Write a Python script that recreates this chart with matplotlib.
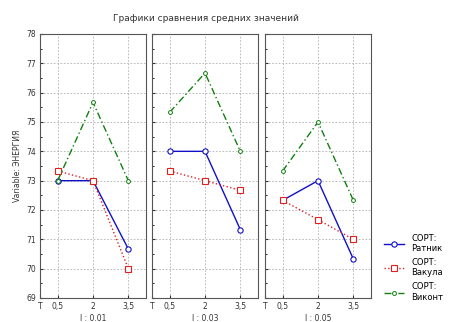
import matplotlib.pyplot as plt

x_labels = ['0,5', '2', '3,5']
panel_titles = ['l : 0.01', 'l : 0.03', 'l : 0.05']
ratnik = [[73, 73, 70.67], [74, 74, 71.33], [72.33, 73, 70.33]]
vakula = [[73.33, 73, 70], [73.33, 73, 72.67], [72.33, 71.67, 71]]
vikont = [[73, 75.67, 73], [75.33, 76.67, 74], [73.33, 75, 72.33]]

plt.rcParams['font.family'] = ['DejaVu Sans']
plt.rcParams['font.size'] = 5.5

fig = plt.figure(figsize=(4.52, 3.22), dpi=100)
lefts = [40, 152, 265]
pos = [1, 2, 3]
for i in range(3):
    ax = fig.add_axes([lefts[i] / 452, 24 / 322, 106 / 452, 264 / 322])
    ax.plot(pos, ratnik[i], color='#1010c8', lw=1, marker='o', ms=3.8,
            mfc='white', mew=0.8, label='СОРТ:\nРатник')
    ax.plot(pos, vakula[i], color='#e02020', lw=1, ls=':', marker='s', ms=3.8,
            mfc='white', mew=0.8, label='СОРТ:\nВакула')
    ax.plot(pos, vikont[i], color='#108010', lw=1, ls=(0, (5, 2, 1, 2)), marker='o',
            ms=2.8, mfc='white', mew=0.7, label='СОРТ:\nВиконт')
    ax.set_xlim(0.5, 3.5)
    ax.set_ylim(69, 78)
    ax.set_xticks([0.5] + pos)
    ax.set_xticklabels(['T'] + x_labels, color='#333333')
    ax.set_yticks(range(69, 79))
    ax.set_yticks([y + 0.5 for y in range(69, 78)], minor=True)
    if i > 0:
        ax.set_yticklabels([])
    ax.tick_params(direction='in', length=2, colors='#333333', labelsize=5.5, pad=3)
    ax.tick_params(which='minor', direction='in', length=1.5)
    ax.grid(True, ls=(0, (2, 2)), color='#b0b0b0', lw=0.6)
    for s in ax.spines.values():
        s.set_color('#555555')
        s.set_linewidth(0.8)
    ax.set_xlabel(panel_titles[i], labelpad=2, fontsize=5.5, color='#333333')
    if i == 0:
        ax.set_ylabel('Variable: ЭНЕРГИЯ', fontsize=5.5, color='#333333', labelpad=3)
    if i == 2:
        ax.legend(loc='lower left', bbox_to_anchor=(1.08, -0.03), frameon=False,
                  handlelength=2.5, fontsize=6, labelspacing=0.6, borderpad=0)

fig.suptitle('Графики сравнения средних значений', x=0.455, y=0.955, fontsize=6.5,
             color='#333333')
plt.savefig('out.png', dpi=100)
